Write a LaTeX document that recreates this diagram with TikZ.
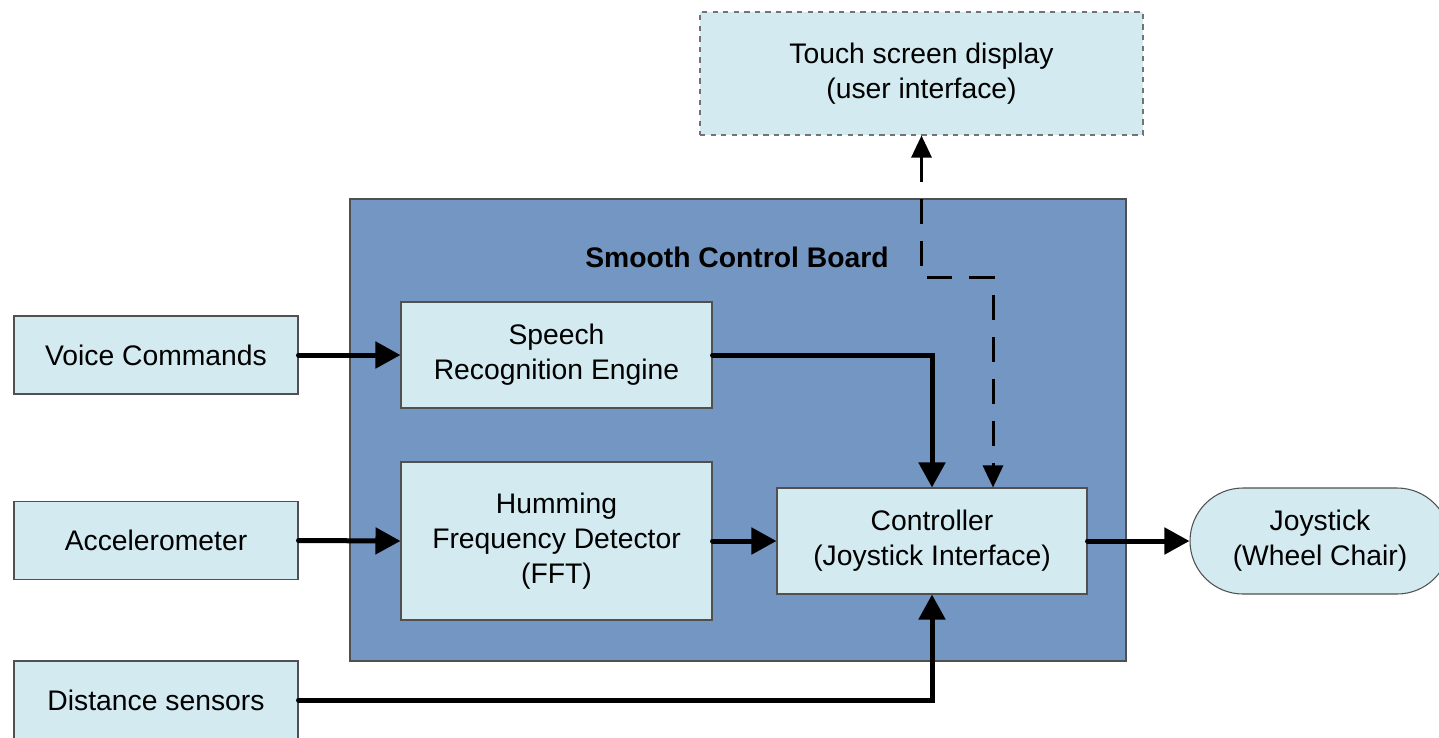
\documentclass[tikz,border=0pt]{standalone}
\usepackage{fontspec}
\setmainfont{Liberation Sans}
\usetikzlibrary{shapes.misc, positioning, arrows.meta, calc}
\definecolor{boxfill}{RGB}{210, 234, 240}
\definecolor{boardfill}{RGB}{115, 150, 194}
\definecolor{edgegray}{RGB}{80, 80, 80}

\tikzset{
    block/.style={draw=edgegray, fill=boxfill, line width=0.6pt, align=center, inner sep=0pt,
        font=\fontsize{16.1}{19.8}\selectfont},
    flow/.style={line width=0.1cm, line cap=round, -{Triangle[length=0.5cm, width=0.52cm]}},
    uilink/.style={line width=0.06cm, dash pattern=on 0.5cm off 0.34cm,
        {Triangle[length=0.44cm, width=0.4cm]}-{Triangle[length=0.44cm, width=0.4cm]}}
}

\begin{document}
\begin{tikzpicture}
    \clip (0,0) rectangle (28.78,-14.74);
    \fill[white] (0,0) rectangle (28.78,-14.74);

    % Control board background
    \node[draw=edgegray, fill=boardfill, line width=0.6pt, minimum width=15.52cm, minimum height=9.24cm, inner sep=0pt] (board) at (14.76,-8.6) {};
    \node[font=\fontsize{16.1}{19.8}\selectfont\bfseries] (title) at (14.74,-5.14) {Smooth Control Board};

    % Inputs
    \node[block, minimum width=5.68cm, minimum height=1.56cm] (voice) at (3.12,-7.1) {Voice Commands};
    \node[block, minimum width=5.68cm, minimum height=1.56cm] (accel) at (3.12,-10.81) {Accelerometer};
    \node[block, minimum width=5.68cm, minimum height=1.56cm] (dist) at (3.12,-14.0) {Distance sensors};

    % Blocks on the board
    \node[block, minimum width=6.22cm, minimum height=2.12cm] (speech) at (11.13,-7.1) {Speech\\Recognition Engine};
    \node[block, minimum width=6.22cm, minimum height=3.16cm] (hum) at (11.13,-10.82) {Humming\\Frequency Detector\\(FFT)};
    \node[block, minimum width=6.2cm, minimum height=2.12cm] (ctrl) at (18.64,-10.82) {Controller\\(Joystick Interface)};

    % Outputs
    \node[block, rounded rectangle, minimum width=5.2cm, minimum height=2.12cm] (joy) at (26.4,-10.82) {Joystick\\(Wheel Chair)};
    \node[block, dashed, draw=edgegray!80, minimum width=8.86cm, minimum height=2.46cm] (touch) at (18.43,-1.47) {Touch screen display\\(user interface)};

    % Signal paths
    \draw[flow] (voice.east) -- (speech.west);
    \draw[flow] (accel.east) -- (hum.west);
    \draw[flow] (hum.east) -- (ctrl.west);
    \draw[flow] (speech.east) -| (ctrl.north);
    \draw[flow] (dist.east) -| (ctrl.south);
    \draw[flow] (ctrl.east) -- (joy.west);

    \coordinate (tap) at ($(ctrl.north)+(1.22,0)$);
    \draw[uilink] (touch.south) -- ++(0,-2.84) -| (tap);
\end{tikzpicture}
\end{document}
